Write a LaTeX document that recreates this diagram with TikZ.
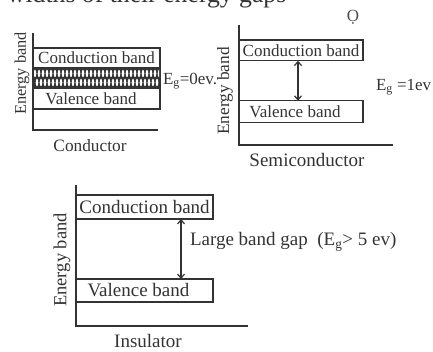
\documentclass[tikz,border=0pt]{standalone}
\usepackage{fontspec}
\setmainfont{Liberation Serif}
\usetikzlibrary{arrows.meta}
\definecolor{ink}{HTML}{333333}
\begin{document}
\begin{tikzpicture}[x=1pt,y=-1pt,
  every node/.style={text=ink, outer sep=0pt},
  box/.style={draw=ink, line width=1.3pt, rectangle, inner sep=0pt, anchor=north west},
  axis/.style={draw=ink, line width=1.7pt},
  gaparrow/.style={draw=ink, line width=1.2pt, {Straight Barb[length=4pt,width=7pt]}-{Straight Barb[length=4pt,width=7pt]}},
  fA/.style={font=\fontsize{17}{20}\selectfont},
  fB/.style={font=\fontsize{19}{22}\selectfont}
]
\useasboundingbox (0,0) rectangle (433,352);

% cut-off heading
\node[anchor=base west, inner sep=0pt, font=\fontsize{25.7}{30}\selectfont] (title) at (7,3) {widths of their energy gaps};
\node[inner sep=0pt, text=black!70, font=\fontsize{17}{20}\selectfont] (mark) at (353,17) {Ọ};

% ---------- Conductor ----------
\coordinate (a1t) at (33,33);
\coordinate (a1e) at (158,130);
\draw[axis] (a1t) |- (a1e);
\node[box, fA, minimum width=127pt, minimum height=20pt] (c1) at (33,48) {Conduction band};
\node[box, fill=ink, minimum width=127pt, minimum height=20pt] (h1) at (c1.south west) {};
\node[box, fA, minimum width=127pt, minimum height=21pt] (v1) at (h1.south west) {Valence band\kern11pt};
\begin{scope}
  \clip ([shift={(1,1)}]h1.north west) rectangle ([shift={(-1,-1)}]h1.south east);
  \foreach \i in {0,...,31} {
    \fill[white] (35+4*\i,73.5) ellipse [x radius=1.3, y radius=3.8];
    \fill[white] (37+4*\i,82.5) ellipse [x radius=1.3, y radius=3.8];
  }
\end{scope}
\node[rotate=90, font=\fontsize{16.3}{18}\selectfont] (e1) at (22,73.5) {Energy band};
\node[font=\fontsize{17.3}{20}\selectfont] (n1) at (90,146) {Conductor};
\node[anchor=west, inner sep=0pt, fA] (g1) at (163,81) {E\textsubscript{g}=0ev.};

% ---------- Semiconductor ----------
\coordinate (a2t) at (239,25);
\coordinate (a2e) at (393,145);
\draw[axis] (a2t) |- (a2e);
\node[box, fA, minimum width=124pt, minimum height=20.7pt] (c2) at (239,40) {Conduction band};
\node[box, fA, minimum width=124pt, minimum height=22pt] (v2) at (239,100.7) {Valence band\kern12pt};
\draw[gaparrow] ([xshift=59pt]c2.south west) -- ([xshift=59pt]v2.north west);
\node[rotate=90, font=\fontsize{17.3}{20}\selectfont] (e2) at (225,91) {Energy band};
\node[fB] (n2) at (307,160) {Semiconductor};
\node[anchor=west, inner sep=0pt, fA] (g2) at (376,87) {E\textsubscript{g} =1ev};

% ---------- Insulator ----------
\coordinate (a3t) at (76,185);
\coordinate (a3e) at (248,326);
\draw[axis] (a3t) |- (a3e);
\node[box, fB, minimum width=137pt, minimum height=24pt] (c3) at (76,195) {Conduction band};
\node[box, fB, minimum width=137pt, minimum height=23pt] (v3) at (76,279) {Valence band\kern12pt};
\draw[gaparrow] ([xshift=105pt]c3.south west) -- ([xshift=105pt]v3.north west);
\node[rotate=90, font=\fontsize{18.5}{22}\selectfont] (e3) at (62,260) {Energy band};
\node[fB] (n3) at (148,341) {Insulator};
\node[anchor=west, inner sep=0pt, fB] (g3) at (190,242) {Large band gap~~(E\textsubscript{g}>~5 ev)};
\end{tikzpicture}
\end{document}
